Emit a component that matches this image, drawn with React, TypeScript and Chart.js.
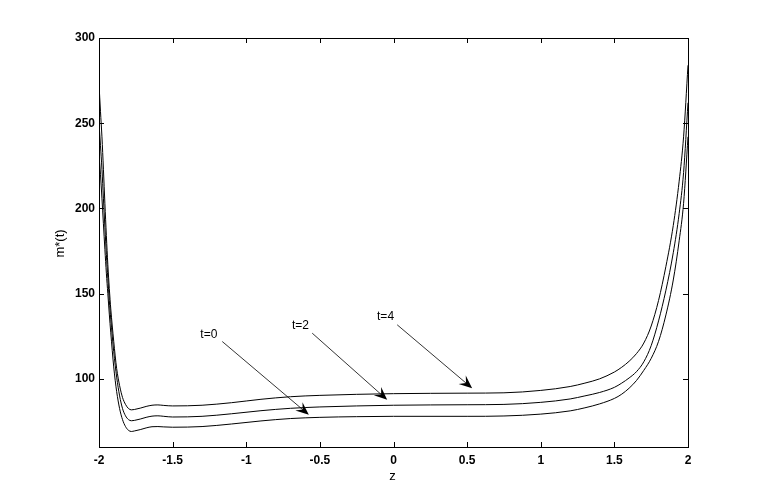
import React, { useEffect, useRef } from "react";
import { Chart, registerables } from "chart.js";

Chart.register(...registerables);

// z grid shared by the three curves
const zGrid = [
  -2, -1.99, -1.98, -1.97, -1.96, -1.95, -1.94, -1.93, -1.92, -1.9, -1.88, -1.86,
  -1.84, -1.82, -1.8, -1.78, -1.76, -1.72, -1.68, -1.64, -1.6, -1.56, -1.5, -1.3,
  -1.1, -0.9, -0.7, -0.5, -0.25, 0, 0.5, 0.75, 1.0, 1.2, 1.3, 1.4, 1.5, 1.55,
  1.6, 1.65, 1.7, 1.75, 1.8, 1.85, 1.9, 1.94, 1.97, 2.0,
];

// m*(t) at t = 4 (upper curve)
const mT4 = [
  273, 257, 242, 223, 203, 184, 167, 153, 141, 122, 106, 96,
  89, 85, 82.6, 81.8, 82, 82.8, 83.8, 84.5, 84.7, 84.4, 84.1, 84.5,
  86, 88, 89.5, 90.3, 90.9, 91.3, 91.6, 91.8, 93.2, 95.5, 97.5, 100, 104, 106.8,
  110.3, 114.8, 121, 131, 146, 166, 190, 216, 242, 284,
];

// m*(t) at t = 2 (middle curve)
const mT2 = [
  250, 237, 223, 206, 189, 173, 159, 146, 135, 116, 101, 90,
  82.5, 78.3, 76.1, 75.4, 75.6, 76.4, 77.4, 78.1, 78.3, 78, 77.6, 78,
  79.5, 81.3, 82.7, 83.5, 84.1, 84.5, 84.8, 85, 86.2, 88.2, 90, 92, 95, 97.5,
  100.5, 104.2, 110, 119.5, 134, 152, 174, 197, 221, 262,
];

// m*(t) at t = 0 (lower curve)
const mT0 = [
  232, 220, 206, 191, 176, 162, 150, 138, 127, 107, 92.5, 82.5,
  76, 72, 69.8, 69.1, 69.4, 70.2, 71.2, 71.9, 72, 71.8, 71.6, 72,
  73.5, 75.3, 76.7, 77.4, 77.8, 78, 78, 78.2, 79.3, 81.2, 83, 85.3, 88.5, 91,
  94.5, 99, 105, 112, 122, 137.5, 158, 181, 203, 242,
];

const xTicks = [-2, -1.5, -1, -0.5, 0, 0.5, 1, 1.5, 2];
const yTicks = [100, 150, 200, 250, 300];

// annotations (data coordinates)
const annoLabels = ["t=0", "t=2", "t=4"];
const annoTextZ = [-1.254, -0.632, -0.054];
const annoTextM = [125.8, 131.1, 136.2];
const arrowFromZ = [-1.163, -0.552, 0.025];
const arrowFromM = [121.9, 126.8, 131.7];
const arrowToZ = [-0.575, -0.043, 0.534];
const arrowToM = [78.9, 87.7, 94.5];

const xTitle = "z";
const yTitle = "m*(t)";

const FONT = "'Liberation Sans', Arial, sans-serif";

const framePlugin = {
  id: "matlabFrame",
  afterDraw(chart: any) {
    const { ctx, chartArea: a, scales } = chart;
    const xs = scales.x;
    const ys = scales.y;
    const L = Math.round(a.left);
    const R = Math.round(a.right);
    const T = Math.round(a.top);
    const B = Math.round(a.bottom);
    ctx.save();
    ctx.strokeStyle = "#000";
    ctx.lineWidth = 1;
    ctx.strokeRect(L + 0.5, T + 0.5, R - L, B - T);
    ctx.beginPath();
    xTicks.forEach((v) => {
      const px = Math.round(xs.getPixelForValue(v)) + 0.5;
      ctx.moveTo(px, B);
      ctx.lineTo(px, B - 5);
      ctx.moveTo(px, T);
      ctx.lineTo(px, T + 5);
    });
    yTicks.forEach((v) => {
      const py = Math.round(ys.getPixelForValue(v)) + 0.5;
      ctx.moveTo(L, py);
      ctx.lineTo(L + 5, py);
      ctx.moveTo(R, py);
      ctx.lineTo(R - 5, py);
    });
    ctx.stroke();

    // annotations
    ctx.fillStyle = "#000";
    ctx.font = `12px ${FONT}`;
    ctx.textAlign = "center";
    ctx.textBaseline = "middle";
    annoLabels.forEach((lab, i) => {
      ctx.fillText(lab, xs.getPixelForValue(annoTextZ[i]), ys.getPixelForValue(annoTextM[i]));
      const x1 = xs.getPixelForValue(arrowFromZ[i]);
      const y1 = ys.getPixelForValue(arrowFromM[i]);
      const x2 = xs.getPixelForValue(arrowToZ[i]);
      const y2 = ys.getPixelForValue(arrowToM[i]);
      const ang = Math.atan2(y2 - y1, x2 - x1);
      const ux = Math.cos(ang);
      const uy = Math.sin(ang);
      const nx = -uy;
      const ny = ux;
      const hl = 13;
      const hw = 5.5;
      ctx.beginPath();
      ctx.moveTo(x1, y1);
      ctx.lineTo(x2 - ux * 6, y2 - uy * 6);
      ctx.lineWidth = 0.8;
      ctx.stroke();
      ctx.beginPath();
      ctx.moveTo(x2, y2);
      ctx.lineTo(x2 - ux * hl + nx * hw, y2 - uy * hl + ny * hw);
      ctx.lineTo(x2 - ux * 8, y2 - uy * 8);
      ctx.lineTo(x2 - ux * hl - nx * hw, y2 - uy * hl - ny * hw);
      ctx.closePath();
      ctx.fill();
    });

    // axis titles
    ctx.font = `13px ${FONT}`;
    ctx.fillText(xTitle, (L + R) / 2 - 1, B + 29);
    ctx.save();
    ctx.translate(60, (T + B) / 2 + 1);
    ctx.rotate(-Math.PI / 2);
    ctx.fillText(yTitle, 0, 0);
    ctx.restore();
    ctx.restore();
  },
};

export default function App() {
  const ref = useRef<HTMLCanvasElement | null>(null);

  useEffect(() => {
    document.body.style.margin = "0";
    if (!ref.current) return;
    const mk = (vals: number[]) => zGrid.map((z, i) => ({ x: z, y: vals[i] }));
    const ds = (vals: number[]) => ({
      data: mk(vals),
      borderColor: "#000",
      borderWidth: 1,
      pointRadius: 0,
      fill: false,
      cubicInterpolationMode: "monotone" as const,
    });
    const tickFont = { family: FONT, size: 12, weight: "bold" as const };
    const chart = new Chart(ref.current, {
      type: "line",
      data: { datasets: [ds(mT0), ds(mT2), ds(mT4)] },
      options: {
        animation: false,
        responsive: false,
        devicePixelRatio: 1,
        layout: { padding: { left: 0, top: 38, right: 73, bottom: 0 } },
        plugins: { legend: { display: false }, tooltip: { enabled: false } },
        scales: {
          x: {
            type: "linear",
            min: -2,
            max: 2,
            grid: { display: false, drawTicks: false },
            border: { display: false },
            afterBuildTicks: (s: any) => {
              s.ticks = xTicks.map((v) => ({ value: v }));
            },
            afterFit: (s: any) => {
              s.height = 56;
            },
            ticks: {
              callback: (v: any) => String(v),
              font: tickFont,
              color: "#000",
              padding: 6,
              maxRotation: 0,
              autoSkip: false,
            },
          },
          y: {
            type: "linear",
            min: 60,
            max: 300,
            grid: { display: false, drawTicks: false },
            border: { display: false },
            afterBuildTicks: (s: any) => {
              s.ticks = yTicks.map((v) => ({ value: v }));
            },
            afterFit: (s: any) => {
              s.width = 99;
            },
            ticks: {
              callback: (v: any) => String(v),
              font: tickFont,
              color: "#000",
              padding: 4,
              autoSkip: false,
            },
          },
        },
      },
      plugins: [framePlugin],
    });
    return () => chart.destroy();
  }, []);

  return (
    <div style={{ position: "absolute", left: 0, top: 0, width: 761, height: 503, background: "#fff" }}>
      <canvas ref={ref} width={761} height={503} />
    </div>
  );
}
